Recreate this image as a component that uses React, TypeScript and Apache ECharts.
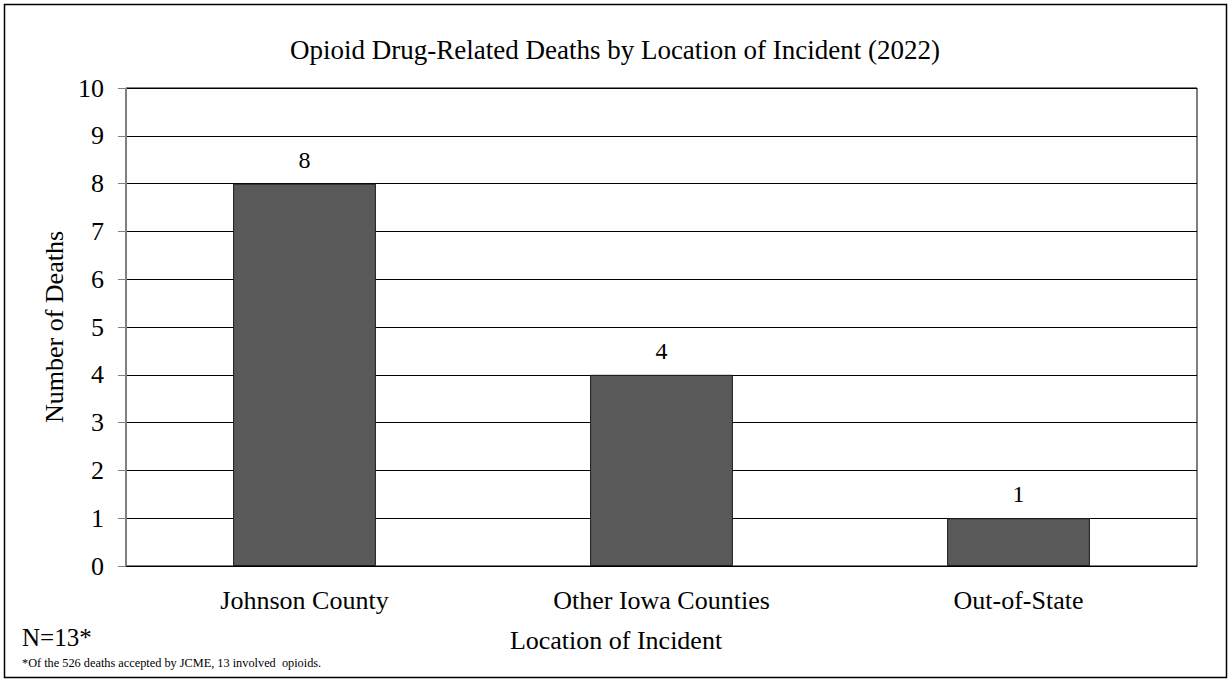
import React, { useEffect, useRef } from "react";
import * as echarts from "echarts";

const categories: string[] = ["Johnson County", "Other Iowa Counties", "Out-of-State"];
const deaths: number[] = [8, 4, 1];
const titleText = "Opioid Drug-Related Deaths by Location of Incident (2022)";
const yAxisName = "Number of Deaths";
const xAxisName = "Location of Incident";
const nNote = "N=13*";
const footnote = "*Of the 526 deaths accepted by JCME, 13 involved  opioids.";

const FONT = "'Liberation Serif', 'Times New Roman', serif";

export default function App() {
  const ref = useRef<HTMLDivElement>(null);
  useEffect(() => {
    if (!ref.current) return;
    const chart = echarts.init(ref.current, null, { renderer: "svg" });
    chart.setOption({
      animation: false,
      backgroundColor: "#ffffff",
      textStyle: { fontFamily: FONT, color: "#000" },
      title: {
        text: titleText,
        left: "center",
        top: 31,
        textStyle: { fontFamily: FONT, fontSize: 27, fontWeight: "normal", color: "#000" },
      },
      grid: {
        left: 126,
        right: 33,
        top: 88,
        bottom: 117,
        show: true,
        borderColor: "#000",
        borderWidth: 1,
        backgroundColor: "transparent",
      },
      xAxis: {
        type: "category",
        data: categories,
        axisLine: { show: true, lineStyle: { color: "#000", width: 1 } },
        axisTick: { show: false },
        axisLabel: { fontFamily: FONT, fontSize: 26, color: "#000", margin: 21 },
      },
      yAxis: {
        type: "value",
        min: 0,
        max: 10,
        interval: 1,
        axisLine: { show: true, lineStyle: { color: "#808080", width: 1 } },
        axisTick: { show: true, length: 8, lineStyle: { color: "#808080" } },
        axisLabel: { fontFamily: FONT, fontSize: 26, color: "#000", margin: 22 },
        splitLine: { show: true, lineStyle: { color: "#000", width: 1 } },
        name: yAxisName,
        nameLocation: "middle",
        nameGap: 58,
        nameRotate: 90,
        nameTextStyle: { fontFamily: FONT, fontSize: 26, color: "#000" },
      },
      series: [
        {
          type: "bar",
          data: deaths,
          barWidth: "40%",
          itemStyle: { color: "#595959", borderColor: "#1a1a1a", borderWidth: 1 },
          label: {
            show: true,
            position: "top",
            distance: 12,
            fontFamily: FONT,
            fontSize: 24,
            color: "#000",
          },
        },
      ],
      graphic: [
        {
          type: "rect",
          shape: { x: 4.5, y: 4.5, width: 1222, height: 673 },
          style: { fill: "none", stroke: "#000", lineWidth: 1.5 },
          silent: true,
        },
        {
          type: "text",
          x: 616,
          y: 640,
          style: {
            text: xAxisName,
            font: `26px ${FONT}`,
            fill: "#000",
            textAlign: "center",
            textVerticalAlign: "middle",
          },
        },
        {
          type: "text",
          left: 22,
          top: 625,
          style: { text: nNote, font: `25px ${FONT}`, fill: "#000" },
        },
        {
          type: "text",
          left: 22,
          top: 657,
          style: { text: footnote, font: `12.3px ${FONT}`, fill: "#000" },
        },
      ],
    });
    return () => chart.dispose();
  }, []);
  return (
    <div
      ref={ref}
      style={{ position: "fixed", left: 0, top: 0, width: 1230, height: 683 }}
    />
  );
}
